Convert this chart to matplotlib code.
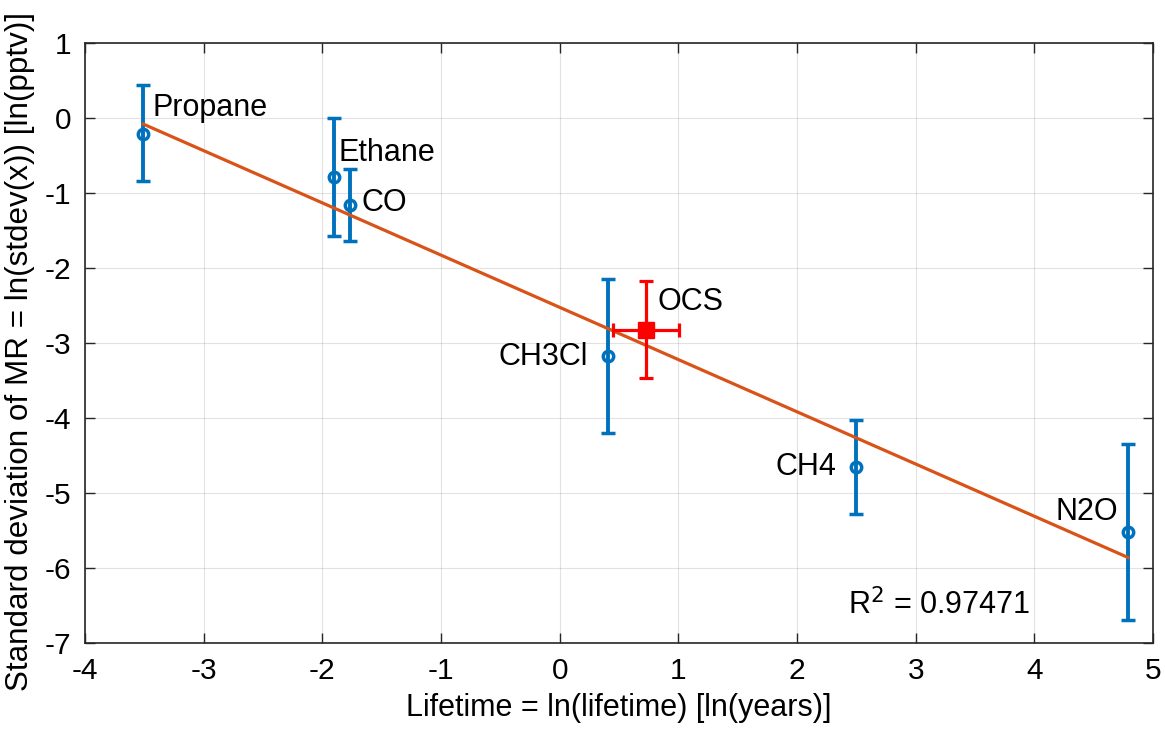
import matplotlib
matplotlib.use("Agg")
import matplotlib.pyplot as plt
import numpy as np

plt.rcParams['font.family'] = ['Liberation Sans', 'DejaVu Sans']
plt.rcParams['axes.unicode_minus'] = False

# Data
names = ["Propane", "Ethane", "CO", "CH3Cl", "CH4", "N2O"]
lifetime = [-3.509, -1.90, -1.770, 0.409, 2.493, 4.789]
stdev_mr = [-0.213, -0.795, -1.16, -3.181, -4.657, -5.52]
err_upper = [0.436, -0.008, -0.684, -2.151, -4.03, -4.347]
err_lower = [-0.84, -1.573, -1.64, -4.20, -5.28, -6.693]

ocs_x = 0.729
ocs_y = -2.83
ocs_x_range = [0.451, 1.004]
ocs_y_range = [-3.475, -2.173]

fit_slope = -0.696
fit_intercept = -2.527
r_squared = "0.97471"

label_pos = {
    "Propane": (-3.433, 0.13, 'left'),
    "Ethane": (-1.863, -0.47, 'left'),
    "CO": (-1.669, -1.14, 'left'),
    "CH3Cl": (0.24, -3.19, 'right'),
    "CH4": (2.333, -4.65, 'right'),
    "N2O": (4.71, -5.25, 'right'),
}

blue = (0.0, 0.447, 0.741)
orange = (0.85, 0.325, 0.098)
axcol = (0.15, 0.15, 0.15)

fig = plt.figure(figsize=(11.65, 7.31), dpi=100)
ax = fig.add_axes([0.073, 0.1204, 0.9167, 0.8212])

x = np.array(lifetime)
y = np.array(stdev_mr)
yerr = np.vstack([y - np.array(err_lower), np.array(err_upper) - y])

ax.errorbar(x, y, yerr=yerr, fmt='o', color=blue, ecolor=blue, elinewidth=2.8,
            capsize=5, capthick=2.8, markersize=7.5, markerfacecolor='none',
            markeredgewidth=2.5, zorder=3)

xf = np.array([min(lifetime), max(lifetime)])
ax.plot(xf, fit_intercept + fit_slope * xf, color=orange, lw=2.3, zorder=4)

ax.errorbar([ocs_x], [ocs_y],
            xerr=[[ocs_x - ocs_x_range[0]], [ocs_x_range[1] - ocs_x]],
            yerr=[[ocs_y - ocs_y_range[0]], [ocs_y_range[1] - ocs_y]],
            fmt='s', color='red', ecolor='red', elinewidth=2.3, capsize=5,
            capthick=2.3, markersize=11, zorder=5)
ax.text(0.825, -2.45, "OCS", fontsize=22, va='center', ha='left', color='black')

for n in names:
    tx, ty, ha = label_pos[n]
    ax.text(tx, ty, n, fontsize=22, va='center', ha=ha, color='black')

ax.text(2.43, -6.5, r"R$^{2}$ = " + r_squared, fontsize=22, va='center', ha='left')

ax.set_xlim(-4, 5)
ax.set_ylim(-7, 1)
ax.set_xticks(np.arange(-4, 6, 1))
ax.set_yticks(np.arange(-7, 2, 1))
ax.grid(True, color=(0.15, 0.15, 0.15), alpha=0.13, lw=0.8)
ax.set_axisbelow(True)
ax.tick_params(direction='in', length=7, width=1, colors=axcol, labelsize=21.5,
               top=True, right=True, labelcolor='black', pad=10)
for s in ax.spines.values():
    s.set_color(axcol)
    s.set_linewidth(1.2)

ax.set_xlabel("Lifetime = ln(lifetime) [ln(years)]", fontsize=22, labelpad=6)
ax.set_ylabel("Standard deviation of MR = ln(stdev(x)) [ln(pptv)]", fontsize=22.6)
ax.yaxis.set_label_coords(-0.047, 0.486)

fig.savefig("out.png", dpi=100)
